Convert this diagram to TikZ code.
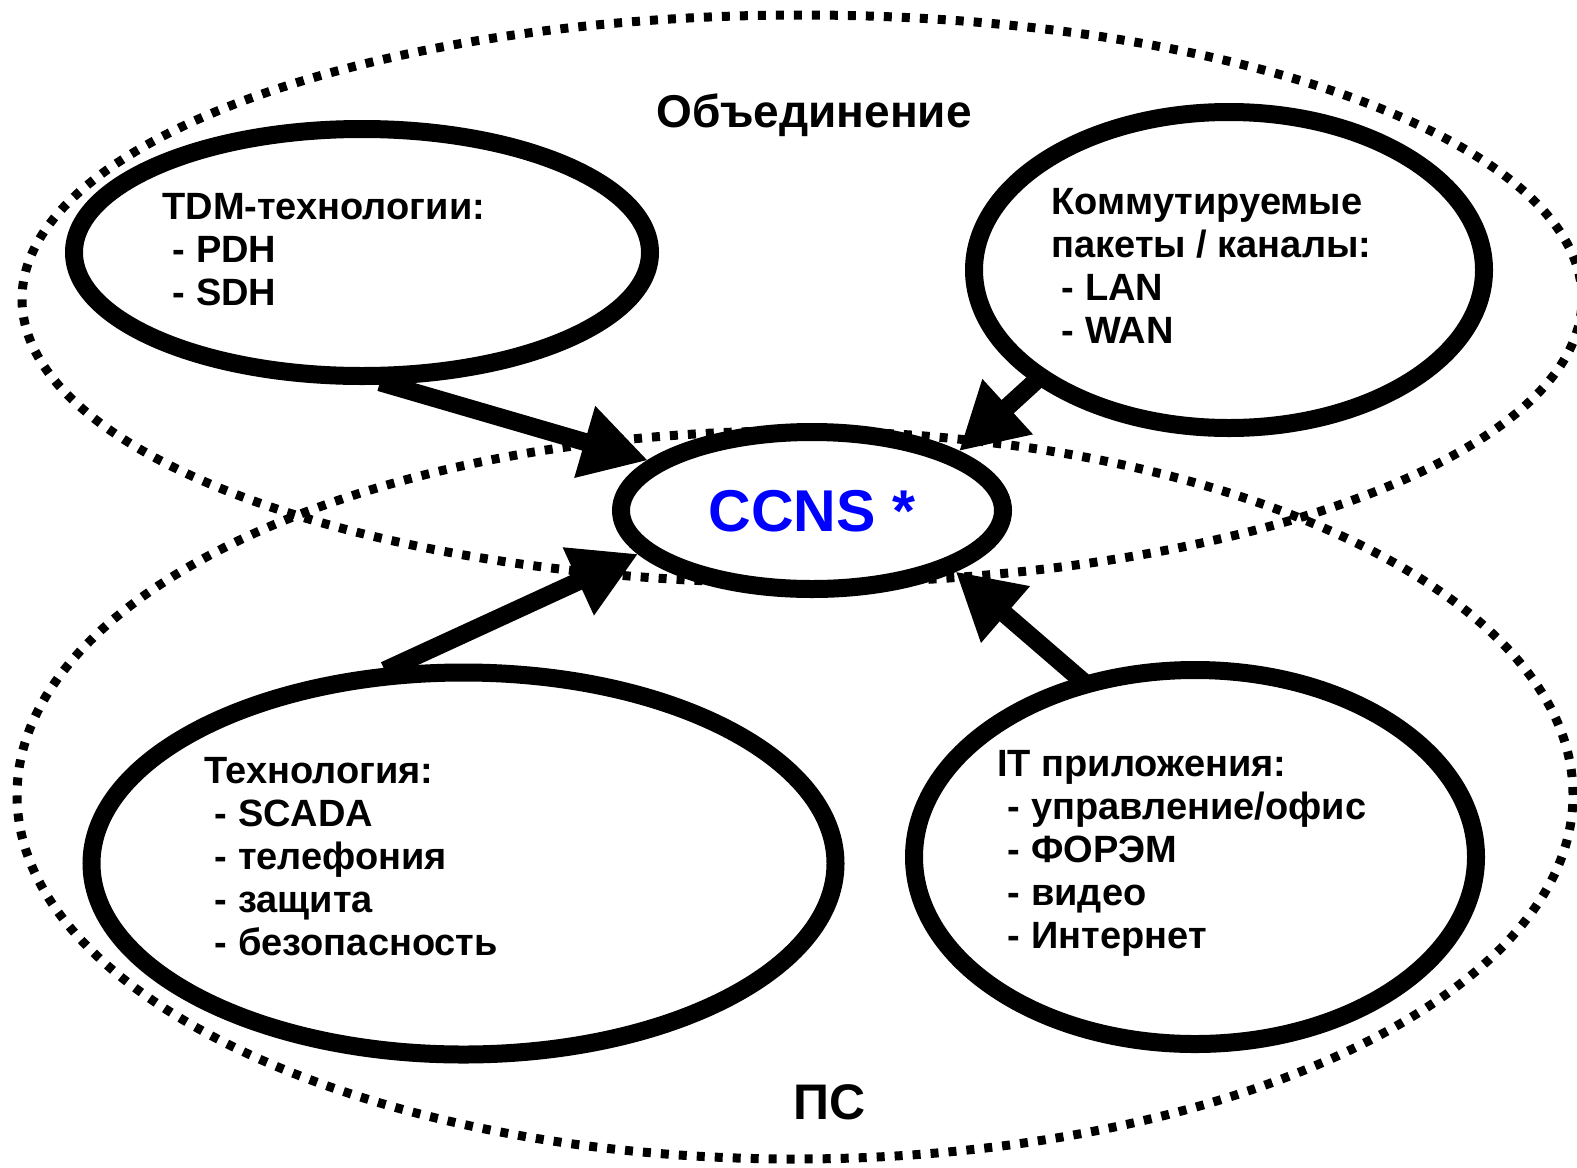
\documentclass[tikz,border=0pt]{standalone}
\usepackage{fontspec}
\setmainfont{Liberation Sans}
\usetikzlibrary{arrows.meta,shapes.geometric}
\pgfdeclarelayer{back}
\pgfdeclarelayer{mid}
\pgfsetlayers{back,mid,main}
\newcommand{\linesbox}[1]{\vtop{\baselineskip=21.5pt #1}}
\begin{document}
\begin{tikzpicture}[x=0.5pt,y=-0.5pt,
  zone/.style={ellipse, draw, line width=4.5pt, dash pattern=on 4pt off 5pt, inner sep=0pt},
  oval/.style={ellipse, draw, fill=white, line width=9pt, inner sep=0pt},
  arr/.style={line width=9pt, -{Triangle[length=33pt,width=35pt]}, shorten <=-4pt},
  lbl/.style={anchor=base west, inner sep=0pt, font=\bfseries\fontsize{19}{21.5}\selectfont},
  ttl/.style={anchor=base, inner sep=0pt, font=\bfseries\fontsize{23}{28}\selectfont},
  ]
\useasboundingbox (0,0) rectangle (1577,1167);

% ovals
\node[oval, minimum width=288pt, minimum height=123.5pt] (tdm) at (362,252.5) {};
\node[oval, minimum width=255pt, minimum height=158pt] (kom) at (1229,270) {};
\node[oval, minimum width=191pt, minimum height=78.5pt] (ccns) at (812,510.5) {};
\node[oval, minimum width=372pt, minimum height=191pt] (tech) at (463.5,863.5) {};
\node[oval, minimum width=281pt, minimum height=187pt] (it) at (1195,857) {};

% zones
\begin{pgfonlayer}{back}
\node[zone, minimum width=780pt, minimum height=284pt] (union) at (802,299) {};
\node[zone, minimum width=778pt, minimum height=364pt] (ps) at (795,795) {};
\end{pgfonlayer}

% arrows
\begin{pgfonlayer}{mid}
\draw[arr] (tdm.281) -- (ccns.163.8);
\draw[arr] (kom.210.9) -- (ccns.22.1);
\draw[arr] (tech.110) -- (ccns.194.4);
\draw[arr] (it.123) -- (ccns.337.9);
\end{pgfonlayer}

% texts
\node[ttl] (uniontxt) at (814,127) {Объединение};
\node[ttl, font=\bfseries\fontsize{25}{30}\selectfont] (pstxt) at (830,1119) {ПС};
\node[anchor=base, inner sep=0pt, text={rgb,255:red,0;green,0;blue,255}, font=\bfseries\fontsize{29.5}{36}\selectfont] (ccnstxt) at (812,531) {CCNS *};
\node[lbl] (tdmtxt) at (162,219) {\linesbox{\hbox{TDM-технологии:}\hbox{\ - PDH}\hbox{\ - SDH}}};
\node[lbl] (komtxt) at (1051,214) {\linesbox{\hbox{Коммутируемые}\hbox{пакеты / каналы:}\hbox{\ - LAN}\hbox{\ - WAN}}};
\node[lbl] (techtxt) at (204,783) {\linesbox{\hbox{Технология:}\hbox{\ - SCADA}\hbox{\ - телефония}\hbox{\ - защита}\hbox{\ - безопасность}}};
\node[lbl] (ittxt) at (997,776) {\linesbox{\hbox{IT приложения:}\hbox{\ - управление/офис}\hbox{\ - ФОРЭМ}\hbox{\ - видео}\hbox{\ - Интернет}}};
\end{tikzpicture}
\end{document}
